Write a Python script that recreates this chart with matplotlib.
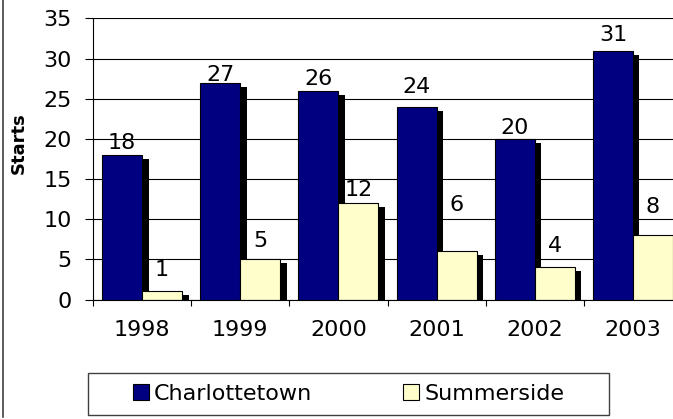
import numpy as np
import matplotlib
matplotlib.use("Agg")
import matplotlib.pyplot as plt
from matplotlib.patches import Rectangle, Patch
from matplotlib.lines import Line2D

# ── data ──────────────────────────────────────────────────────────────────────
years         = ["1998", "1999", "2000", "2001", "2002", "2003"]
charlottetown = [18, 27, 26, 24, 20, 31]
summerside    = [1, 5, 12, 6, 4, 8]

# ── layout / style ────────────────────────────────────────────────────────────
W, H = 673, 419          # output size in px (dpi 100)
NAVY   = "#000080"
YELLOW = "#FFFFCC"
FS     = 16
BAR_W  = 0.4075          # each bar is ~40 px of a ~98 px category
SH_DX  = 0.066           # shadow offset right (category units)
SH_DY  = 0.5             # shadow offset down (y units)

# label gaps above bar tops in pixels (Excel placed these unevenly)
char_gap_px = [6, 2, 6, 14, 5, 10]
summ_gap_px = [15, 12, 7, 40, 15, 22]

fig = plt.figure(figsize=(W / 100, H / 100), dpi=100)
# plot area runs past the right edge of the picture, as in the reference
ax = fig.add_axes([93 / W, 1 - 299.5 / H, 589 / W, 281 / H])

x = np.arange(len(years))
char_left = x + 0.5 - BAR_W
summ_left = x + 0.5

# shadows first, then bars
ax.bar(char_left + SH_DX, np.array(charlottetown) - SH_DY, width=BAR_W,
       align="edge", color="black", linewidth=0, zorder=2)
ax.bar(char_left, charlottetown, width=BAR_W, align="edge", color=NAVY,
       edgecolor="black", linewidth=0.8, zorder=3)
ax.bar(summ_left + SH_DX, np.array(summerside) - SH_DY, width=BAR_W,
       align="edge", color="black", linewidth=0, zorder=4)
ax.bar(summ_left, summerside, width=BAR_W, align="edge", color=YELLOW,
       edgecolor="black", linewidth=0.8, zorder=5)

for i in range(len(years)):
    ax.annotate(str(charlottetown[i]), (char_left[i] + BAR_W / 2, charlottetown[i]),
                xytext=(0, char_gap_px[i]), textcoords="offset pixels",
                ha="center", va="baseline", fontsize=FS, zorder=6)
    ax.annotate(str(summerside[i]), (summ_left[i] + BAR_W / 2, summerside[i]),
                xytext=(0, summ_gap_px[i]), textcoords="offset pixels",
                ha="center", va="baseline", fontsize=FS, zorder=6)

ax.set_xlim(0, 6)
ax.set_ylim(0, 35)
ax.set_yticks(np.arange(0, 36, 5))
ax.set_xticks(x + 0.5)
ax.set_xticklabels(years)
ax.set_xticks(np.arange(0, 7), minor=True)

ax.tick_params(axis="y", labelsize=FS, length=5.8, width=0.8, pad=9.4)
ax.tick_params(axis="x", which="major", labelsize=FS, length=0, pad=15)
ax.tick_params(axis="x", which="minor", length=4.3, width=0.8)

ax.yaxis.grid(True, color="black", linewidth=0.8)
ax.set_axisbelow(True)
for side in ("top", "right"):
    ax.spines[side].set_visible(False)
for side in ("left", "bottom"):
    ax.spines[side].set_linewidth(0.8)
    ax.spines[side].set_zorder(7)

fig.text(18.5 / W, 1 - 143.5 / H, "Starts", rotation=90, fontsize=13,
         fontweight="bold", ha="center", va="center")

# ── legend ────────────────────────────────────────────────────────────────────
handles = [Patch(facecolor=NAVY, edgecolor="black", linewidth=0.8),
           Patch(facecolor=YELLOW, edgecolor="black", linewidth=0.8)]
fig.legend(handles, ["Charlottetown", "Summerside"], ncol=2, frameon=False,
           loc="center left", bbox_to_anchor=(133 / W, 1 - 394 / H),
           fontsize=FS, borderpad=0, borderaxespad=0,
           handlelength=0.72, handleheight=0.72, handletextpad=0.23,
           columnspacing=4.1)
fig.patches.append(Rectangle((88 / W, 1 - 415 / H), (609 - 88) / W, 42 / H,
                             transform=fig.transFigure, fill=False,
                             edgecolor="#404040", linewidth=1.0))

# outer chart border (only left side falls inside the picture)
fig.lines.append(Line2D([2.5 / W, 2.5 / W], [1, 1 - 417 / H],
                        transform=fig.transFigure, color="#404040", linewidth=1.2))

fig.savefig("out.png", dpi=100)
